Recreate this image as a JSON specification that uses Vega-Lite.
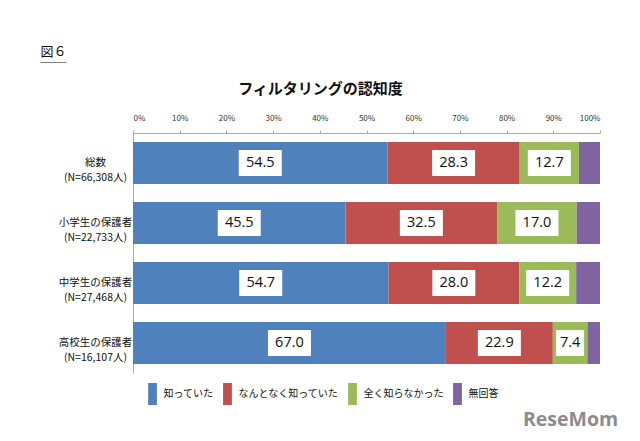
{
  "$schema": "https://vega.github.io/schema/vega-lite/v6.json",
  "width": 467,
  "height": 240,
  "autosize": {"type": "none"},
  "padding": {"left": 133, "top": 133, "right": 40, "bottom": 68},
  "background": "white",
  "config": {"view": {"stroke": null}, "font": "Noto Sans CJK JP"},
  "data": {"values": [
    {"g": "総数\n(N=66,308人)", "c": "知っていた", "k": 1, "v": 54.5},
    {"g": "総数\n(N=66,308人)", "c": "なんとなく知っていた", "k": 2, "v": 28.3},
    {"g": "総数\n(N=66,308人)", "c": "全く知らなかった", "k": 3, "v": 12.7},
    {"g": "総数\n(N=66,308人)", "c": "無回答", "k": 4, "v": 4.5},
    {"g": "小学生の保護者\n(N=22,733人)", "c": "知っていた", "k": 1, "v": 45.5},
    {"g": "小学生の保護者\n(N=22,733人)", "c": "なんとなく知っていた", "k": 2, "v": 32.5},
    {"g": "小学生の保護者\n(N=22,733人)", "c": "全く知らなかった", "k": 3, "v": 17.0},
    {"g": "小学生の保護者\n(N=22,733人)", "c": "無回答", "k": 4, "v": 5.0},
    {"g": "中学生の保護者\n(N=27,468人)", "c": "知っていた", "k": 1, "v": 54.7},
    {"g": "中学生の保護者\n(N=27,468人)", "c": "なんとなく知っていた", "k": 2, "v": 28.0},
    {"g": "中学生の保護者\n(N=27,468人)", "c": "全く知らなかった", "k": 3, "v": 12.2},
    {"g": "中学生の保護者\n(N=27,468人)", "c": "無回答", "k": 4, "v": 5.1},
    {"g": "高校生の保護者\n(N=16,107人)", "c": "知っていた", "k": 1, "v": 67.0},
    {"g": "高校生の保護者\n(N=16,107人)", "c": "なんとなく知っていた", "k": 2, "v": 22.9},
    {"g": "高校生の保護者\n(N=16,107人)", "c": "全く知らなかった", "k": 3, "v": 7.4},
    {"g": "高校生の保護者\n(N=16,107人)", "c": "無回答", "k": 4, "v": 2.7}
  ]},
  "encoding": {
    "y": {"field": "g", "type": "nominal", "sort": null,
      "scale": {"paddingInner": 0.3, "paddingOuter": 0.15},
      "axis": {"title": ["図６", "＿＿"], "titleAngle": 0, "titleX": -93, "titleY": -88, "titleAlign": "left", "titleBaseline": "top", "titleFontSize": 13, "titleFontWeight": "normal", "titleLineHeight": 5, "titleColor": "#111",
        "labelExpr": "split(datum.label, '\\n')", "labelAlign": "center", "labelPadding": 38, "labelFontSize": 10.5, "labelLineHeight": 15, "labelColor": "#111", "labelBaseline": "middle", "ticks": false, "domainColor": "#aaa"}
    }
  },
  "resolve": {"axis": {"x": "independent"}},
  "layer": [
    {
      "mark": {"type": "bar"},
      "encoding": {
        "x": {"field": "v", "type": "quantitative", "stack": "zero", "scale": {"domain": [0, 100]},
          "axis": {"orient": "top", "values": [0, 10, 20, 30, 40, 50, 60, 70, 80, 90, 100], "labelExpr": "datum.value + '%'", "grid": false, "labelFontSize": 8, "labelColor": "#333", "domainColor": "#aaa", "tickColor": "#aaa", "tickSize": 3, "labelPadding": 8,
            "title": "フィルタリングの認知度", "titleFontSize": 15, "titleFontWeight": "bold", "titleColor": "#111", "titleX": 187, "titleY": -45, "titleAlign": "center", "titleBaseline": "middle"}},
        "color": {"field": "c", "type": "nominal",
          "scale": {"domain": ["知っていた", "なんとなく知っていた", "全く知らなかった", "無回答"], "range": ["#4F81BD", "#C0504D", "#9BBB59", "#8064A2"]},
          "legend": {"title": null, "orient": "none", "legendX": 8.5, "legendY": 250, "direction": "horizontal", "symbolType": "M-0.4,-1L0.4,-1L0.4,1L-0.4,1Z", "symbolSize": 484, "symbolStrokeWidth": 0, "labelFontSize": 10, "labelColor": "#111", "columnPadding": 3, "labelOffset": 0, "padding": 0}},
        "order": {"field": "k", "type": "quantitative"}
      }
    },
    {
      "transform": [{"filter": "datum.k < 4"}],
      "mark": {"type": "point", "filled": true, "color": "white", "opacity": 1, "strokeWidth": 0},
      "encoding": {
        "x": {"field": "v", "type": "quantitative", "stack": "zero", "bandPosition": 0.5, "axis": null},
        "detail": {"field": "c"},
        "order": {"field": "k", "type": "quantitative"},
        "size": {"value": 1849},
        "shape": {"condition": {"test": "datum.v < 10", "value": "M-0.65,-0.6L0.65,-0.6L0.65,0.6L-0.65,0.6Z"}, "value": "M-1,-0.6L1,-0.6L1,0.6L-1,0.6Z"}
      }
    },
    {
      "transform": [{"filter": "datum.k < 4"}],
      "mark": {"type": "text", "fontSize": 14.5, "font": "Open Sans", "color": "#111", "baseline": "middle"},
      "encoding": {
        "x": {"field": "v", "type": "quantitative", "stack": "zero", "bandPosition": 0.5,
          "axis": {"orient": "bottom", "labels": false, "ticks": false, "domain": false, "grid": false, "title": "ReseMom", "titleX": 437, "titleY": 46, "titleFontSize": 19.5, "titleFont": "Open Sans", "titleFontWeight": "bold", "titleColor": "#8c8c8c", "titleAlign": "center", "titleBaseline": "middle"}},
        "detail": {"field": "c"},
        "order": {"field": "k", "type": "quantitative"},
        "text": {"field": "v", "type": "quantitative", "format": ".1f"}
      }
    }
  ]
}
